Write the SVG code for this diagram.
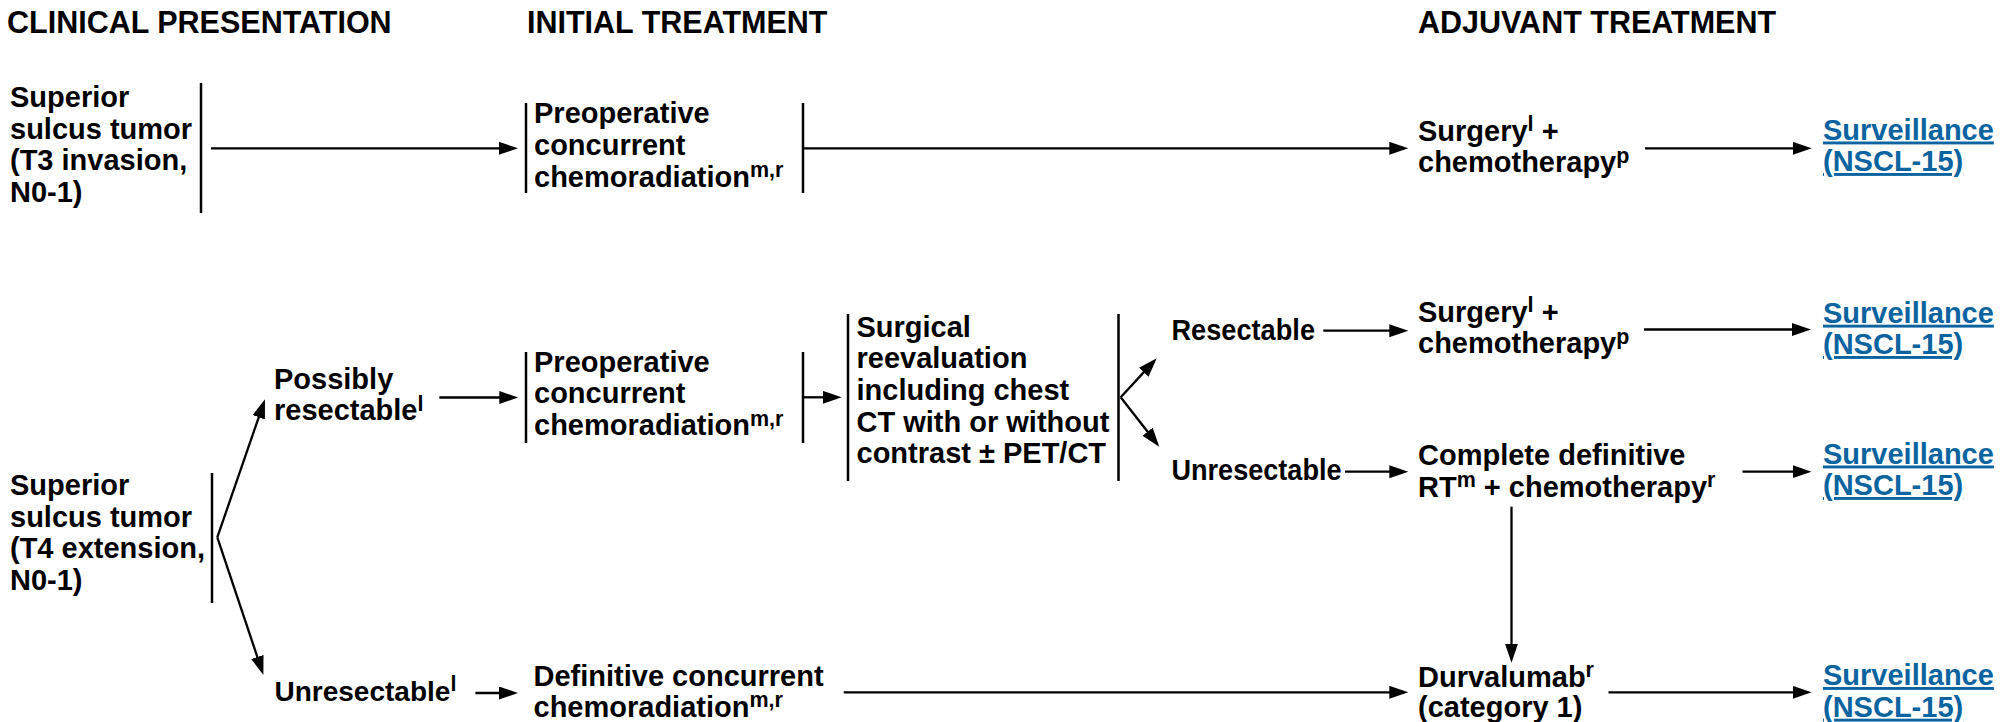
<svg xmlns="http://www.w3.org/2000/svg" width="2001" height="722" viewBox="0 0 2001 722">
<style>
text{font-family:"Liberation Sans",Arial,Helvetica,sans-serif;font-weight:bold;fill:#000;}
.h{font-size:30.5px;}
.t{font-size:29px;}
.m{font-size:28px;}
.sup{font-size:21.5px;}
.link{fill:#0b64a0;text-decoration:underline;}
.bar{stroke:#000;stroke-width:2.5;fill:none;}
.c line{stroke:#000;stroke-width:2.3;fill:none;}
.c .a{marker-end:url(#ah);}
</style>
<defs>
<marker id="ah" markerUnits="userSpaceOnUse" markerWidth="20" markerHeight="14" refX="9" refY="6.5" orient="auto">
<path d="M0,0 L19,6.5 L0,13 z" fill="#000"/>
</marker>
</defs>
<rect width="2001" height="722" fill="#fff"/>
<g id="headers">
<text class="h" x="7" y="33">CLINICAL PRESENTATION</text>
<text class="h" x="527" y="33">INITIAL TREATMENT</text>
<text class="h" x="1418" y="33">ADJUVANT TREATMENT</text>
</g>
<g id="n-t3">
<text class="t"><tspan x="10" y="107">Superior</tspan><tspan x="10" y="138.7">sulcus tumor</tspan><tspan x="10" y="170.4">(T3 invasion,</tspan><tspan x="10" y="202.1">N0-1)</tspan></text>
<line class="bar" x1="201" y1="83" x2="201" y2="213"/>
</g>
<g id="n-preop1">
<line class="bar" x1="526" y1="103" x2="526" y2="193"/>
<text class="t"><tspan x="534" y="123.3">Preoperative</tspan><tspan x="534" y="155">concurrent</tspan><tspan x="534" y="186.7">chemoradiation</tspan><tspan class="sup" dy="-9.5">m,r</tspan></text>
<line class="bar" x1="803" y1="103" x2="803" y2="193"/>
</g>
<g id="n-surg1">
<text class="t"><tspan x="1418" y="140.5">Surgery</tspan><tspan class="sup" dy="-9.5">l</tspan><tspan dy="9.5"> +</tspan><tspan x="1418" y="172">chemotherapy</tspan><tspan class="sup" dy="-9.5">p</tspan></text>
</g>
<g id="n-surv1">
<text class="t link"><tspan x="1823" y="139.5">Surveillance</tspan><tspan x="1823" y="171">(NSCL-15)</tspan></text>
</g>
<g id="n-t4">
<text class="t"><tspan x="10" y="495">Superior</tspan><tspan x="10" y="526.7">sulcus tumor</tspan><tspan x="10" y="558.4">(T4 extension,</tspan><tspan x="10" y="590">N0-1)</tspan></text>
<line class="bar" x1="212" y1="473" x2="212" y2="603"/>
</g>
<g id="n-possibly">
<text class="t"><tspan x="274" y="389.3">Possibly</tspan><tspan x="274" y="420">resectable</tspan><tspan class="sup" dy="-9.5">l</tspan></text>
</g>
<g id="n-unres-l">
<text class="m"><tspan x="274.5" y="700.7">Unresectable</tspan><tspan class="sup" dy="-9.5">l</tspan></text>
</g>
<g id="n-preop2">
<line class="bar" x1="526" y1="352" x2="526" y2="443"/>
<text class="t"><tspan x="534" y="371.7">Preoperative</tspan><tspan x="534" y="403.3">concurrent</tspan><tspan x="534" y="435">chemoradiation</tspan><tspan class="sup" dy="-9.5">m,r</tspan></text>
<line class="bar" x1="803" y1="352" x2="803" y2="443"/>
</g>
<g id="n-reeval">
<line class="bar" x1="848" y1="314" x2="848" y2="481"/>
<text class="t"><tspan x="856.5" y="336.7">Surgical</tspan><tspan x="856.5" y="368.3">reevaluation</tspan><tspan x="856.5" y="400">including chest</tspan><tspan x="856.5" y="431.7">CT with or without</tspan><tspan x="856.5" y="463.3">contrast ± PET/CT</tspan></text>
<line class="bar" x1="1118.5" y1="314" x2="1118.5" y2="481"/>
</g>
<g id="n-resectable">
<text class="t" x="1171.5" y="340" textLength="143.5" lengthAdjust="spacingAndGlyphs">Resectable</text>
</g>
<g id="n-unresectable">
<text class="t" x="1171.5" y="480" textLength="170" lengthAdjust="spacingAndGlyphs">Unresectable</text>
</g>
<g id="n-surg2">
<text class="t"><tspan x="1418" y="321.7">Surgery</tspan><tspan class="sup" dy="-9.5">l</tspan><tspan dy="9.5"> +</tspan><tspan x="1418" y="353.4">chemotherapy</tspan><tspan class="sup" dy="-9.5">p</tspan></text>
</g>
<g id="n-surv2">
<text class="t link"><tspan x="1823" y="322.7">Surveillance</tspan><tspan x="1823" y="354">(NSCL-15)</tspan></text>
</g>
<g id="n-complete">
<text class="t"><tspan x="1418" y="465">Complete definitive</tspan><tspan x="1418" y="496.7">RT</tspan><tspan class="sup" dy="-9.5">m</tspan><tspan dy="9.5"> + chemotherapy</tspan><tspan class="sup" dy="-9.5">r</tspan></text>
</g>
<g id="n-surv3">
<text class="t link"><tspan x="1823" y="463.5">Surveillance</tspan><tspan x="1823" y="495">(NSCL-15)</tspan></text>
</g>
<g id="n-definitive">
<text class="t"><tspan x="533.5" y="685.5">Definitive concurrent</tspan><tspan x="533.5" y="716.7">chemoradiation</tspan><tspan class="sup" dy="-9.5">m,r</tspan></text>
</g>
<g id="n-durva">
<text class="t"><tspan x="1418" y="686.7">Durvalumab</tspan><tspan class="sup" dy="-9.5">r</tspan><tspan x="1418" y="717">(category 1)</tspan></text>
</g>
<g id="n-surv4">
<text class="t link"><tspan x="1823" y="685">Surveillance</tspan><tspan x="1823" y="716.7">(NSCL-15)</tspan></text>
</g>
<g id="connectors" class="c">
<line class="a" x1="211" y1="148.3" x2="508" y2="148.3"/>
<line class="a" x1="803" y1="148.3" x2="1398.3" y2="148.3"/>
<line class="a" x1="1645" y1="148.3" x2="1801.7" y2="148.3"/>
<line class="a" x1="217.3" y1="537.3" x2="261.7" y2="408.75"/>
<line class="a" x1="217.3" y1="537.3" x2="260.2" y2="665.5"/>
<line class="a" x1="439.3" y1="397.5" x2="508.3" y2="397.5"/>
<line class="a" x1="475.4" y1="693" x2="508" y2="693"/>
<line class="a" x1="803" y1="397.3" x2="831.7" y2="397.3"/>
<line class="a" x1="1120.7" y1="397.3" x2="1149.9" y2="365.65"/>
<line class="a" x1="1120.7" y1="397.3" x2="1153.1" y2="438.8"/>
<line class="a" x1="1323.3" y1="330.7" x2="1398.3" y2="330.7"/>
<line class="a" x1="1345" y1="471.7" x2="1398.3" y2="471.7"/>
<line class="a" x1="1644" y1="329.5" x2="1801" y2="329.5"/>
<line class="a" x1="1742.5" y1="471.7" x2="1801.5" y2="471.7"/>
<line class="a" x1="1511.5" y1="506.7" x2="1511.5" y2="652.7"/>
<line class="a" x1="843.75" y1="692.3" x2="1398.3" y2="692.3"/>
<line class="a" x1="1608.5" y1="692.3" x2="1801.5" y2="692.3"/>
</g>
</svg>
